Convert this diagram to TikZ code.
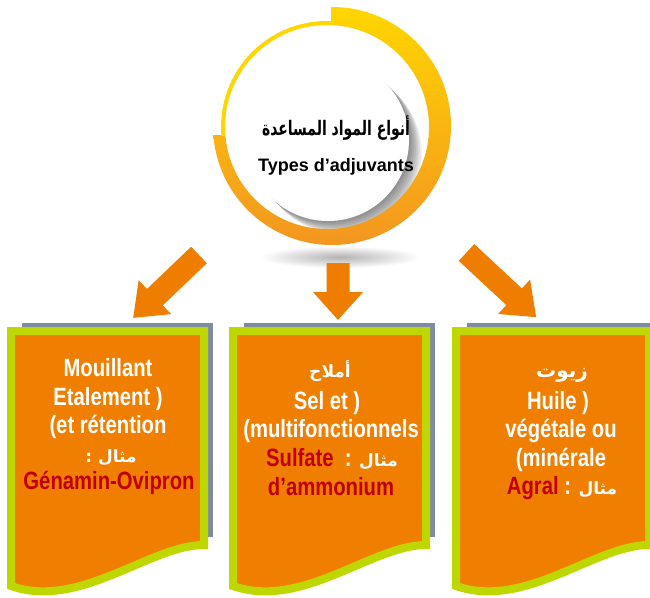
\documentclass[tikz,border=0pt]{standalone}
\usepackage{fontspec}
\setmainfont{Liberation Sans}
\newfontfamily\boxfont{Liberation Sans}[FakeStretch=0.81]
\newfontfamily\arabicfont[Script=Arabic]{DejaVu Sans}
\newfontfamily\arabictitle[Script=Arabic, FakeStretch=0.7]{DejaVu Sans}
\TeXXeTstate=1
\definecolor{boxorange}{RGB}{240,126,0}
\definecolor{arroworange}{RGB}{239,125,0}
\definecolor{limegreen}{RGB}{190,215,0}
\definecolor{slategray}{RGB}{126,140,162}
\definecolor{exred}{RGB}{192,0,0}
\definecolor{ringyellow}{RGB}{255,214,0}
\definecolor{ringorange}{RGB}{243,150,32}
\begin{document}
\begin{tikzpicture}[x=1pt,y=-1pt,
  boxtxt/.style={anchor=base, inner sep=0pt, text=white, font=\boxfont\bfseries\fontsize{25}{28}\selectfont},
  boxar/.style={anchor=base, inner sep=0pt, text=white, font=\arabicfont\bfseries\fontsize{17}{20}\selectfont},
  pics/docbox/.style={code={
    \fill[slategray] (16,323) rectangle (207,537);
    \filldraw[draw=limegreen, line width=8pt, fill=boxorange, miter limit=10]
      (5,331) -- (198,331) -- (198,545) .. controls (144,545) and (74,610) .. (5,586) -- cycle;
  }},
  pics/barrow/.style args={#1/#2/#3/#4}{code={
    \fill[arroworange] (0,-#4) -- ({#1-#2},-#4) -- ({#1-#2},-#3) -- (#1,0)
      -- ({#1-#2},#3) -- ({#1-#2},#4) -- (0,#4) -- cycle;
  }}
]
\useasboundingbox (0,0) rectangle (650,597);
\fill[white] (0,0) rectangle (650,597);
\clip (0,0) rectangle (650,597);

% hub: shadow, white disc, ring
\shade[inner color=gray!60, outer color=white] (340,257) ellipse[x radius=80pt, y radius=11pt];
\foreach \i in {1,...,7}
  \fill[black, opacity=0.075] ({328+1.8*\i},{140+1.8*\i}) circle[radius=81pt];
\fill[white] (328,140) circle[radius=81pt];
\begin{scope}
  \clip (331,135) -- (331,-10) -- (660,-10) -- (660,300) -- (-10,300) -- (-10,135) -- cycle;
  \path[top color=ringyellow, bottom color=ringorange, even odd rule]
    (332,126) circle[radius=119pt] (327,127) circle[radius=102pt];
\end{scope}
\begin{scope}
  \clip (331,135) rectangle (100,-10);
  \draw[ringyellow, line width=4pt] (327,127) circle[radius=104pt];
\end{scope}
\node[anchor=base, inner sep=0pt, font=\arabictitle\bfseries\fontsize{20}{22}\selectfont] (tAr) at (336,135) {\beginR أنواع المواد المساعدة\endR};
\node[anchor=base, inner sep=0pt, font=\bfseries\fontsize{18}{20}\selectfont] (tFr) at (336,171) {Types d’adjuvants};

% arrows
\coordinate (tailL) at (199,255);
\coordinate (tailM) at (338,263);
\coordinate (tailR) at (466.5,252.5);
\pic[rotate=223.7] at (tailL) {barrow={91/30/23.5/11.4}};
\pic[rotate=-90] at (tailM) {barrow={57/28/25/11.5}};
\pic[rotate=-42.9] at (tailR) {barrow={95/30/23.5/11.4}};

% boxes
\pic at (6,0) {docbox};
\pic at (228,0) {docbox};
\pic at (451,0) {docbox};

% left box text
\node[boxtxt] (l1) at (108,376) {Mouillant};
\node[boxtxt] (l2) at (108,405) {Etalement )};
\node[boxtxt] (l3) at (108,433) {(et rétention};
\node[boxar] (l4) at (111,462) {\beginR مثال :\endR};
\node[boxtxt, text=exred] (l5) at (109,489) {Génamin-Ovipron};

% middle box text
\node[boxar] (m1) at (330,377) {\beginR أملاح\endR};
\node[boxtxt] (m2) at (327,409) {Sel et )};
\node[boxtxt] (m3) at (331,437) {(multifonctionnels};
\node[boxtxt] (m4) at (332,466) {\textcolor{exred}{Sulfate}\ \ : {\arabicfont\fontsize{17}{20}\selectfont\beginR مثال\endR}};
\node[boxtxt, text=exred] (m5) at (331,495) {d’ammonium};

% right box text
\node[boxar, font=\arabicfont\bfseries\fontsize{20}{22}\selectfont] (r1) at (562,377) {\beginR زيوت\endR};
\node[boxtxt] (r2) at (558,409) {Huile )};
\node[boxtxt] (r3) at (561,437) {végétale ou};
\node[boxtxt] (r4) at (561,466) {(minérale};
\node[boxtxt] (r5) at (562,494) {\textcolor{exred}{Agral} : {\arabicfont\fontsize{17}{20}\selectfont\beginR مثال\endR}};
\end{tikzpicture}
\end{document}
